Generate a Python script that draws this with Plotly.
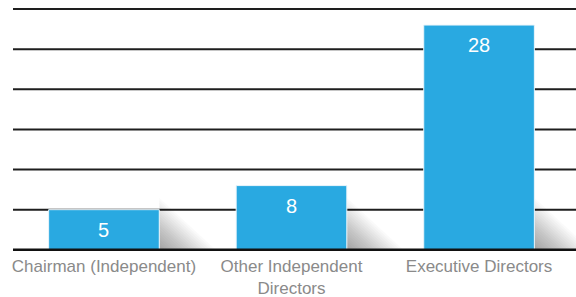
import plotly.graph_objects as go

categories = ["Chairman (Independent)", "Other Independent<br>Directors", "Executive Directors"]
values = [5, 8, 28]
value_labels = ["5", "8", "28"]
grid_values = [5, 10, 15, 20, 25, 30]

BAR = "#29a9e1"
FONT = "Liberation Sans, Arial, sans-serif"
BAR_W = 0.59

fig = go.Figure()

# soft corner shadows (decorative), layered triangles for a diagonal gradient
SH_H = 6.5     # shadow height in value units
SH_D = 0.30    # shadow reach in category units
N = 20
for i, v in enumerate(values):
    xr = i + BAR_W / 2
    for k in range(N):
        s = 1.0 - k / N
        path = f"M {xr},0.05 L {xr},{SH_H * s} L {xr + SH_D * s},0.05 Z"
        fig.add_shape(type="path", xref="x", yref="y", path=path,
                      fillcolor="rgba(0,0,0,0.018)", line=dict(width=0), layer="below")

fig.add_trace(go.Bar(
    x=categories, y=values, width=BAR_W,
    marker=dict(color=BAR, line=dict(color="#eaf5fb", width=1)),
    hoverinfo="skip",
))

for g in grid_values:
    fig.add_shape(type="line", xref="paper", yref="y", x0=0, x1=1, y0=g, y1=g,
                  line=dict(color="#1e1e1e", width=2), layer="below")
fig.add_shape(type="line", xref="paper", yref="y", x0=0, x1=1, y0=0, y1=0,
              line=dict(color="#111111", width=2.5), layer="above")

for c, v, t in zip(categories, values, value_labels):
    fig.add_annotation(x=c, y=v, text=t, showarrow=False, yanchor="middle", yshift=-20,
                       font=dict(family=FONT, size=20, color="white"))

fig.update_layout(
    width=576, height=297,
    margin=dict(l=13, r=0, t=7, b=46),
    paper_bgcolor="white", plot_bgcolor="white",
    showlegend=False,
    xaxis=dict(type="category", range=[-0.485, 2.517], showgrid=False, showline=False, zeroline=False,
               automargin=False, ticks="", ticklabelstandoff=3,
               tickfont=dict(family=FONT, size=17, color="#8a8a8a")),
    yaxis=dict(range=[-0.15, 30.25], showgrid=False, zeroline=False, showticklabels=False,
               automargin=False, showline=False, ticks=""),
)

fig.write_html("out.html", config={"displayModeBar": False},
               post_script="document.body.style.margin='0';")
